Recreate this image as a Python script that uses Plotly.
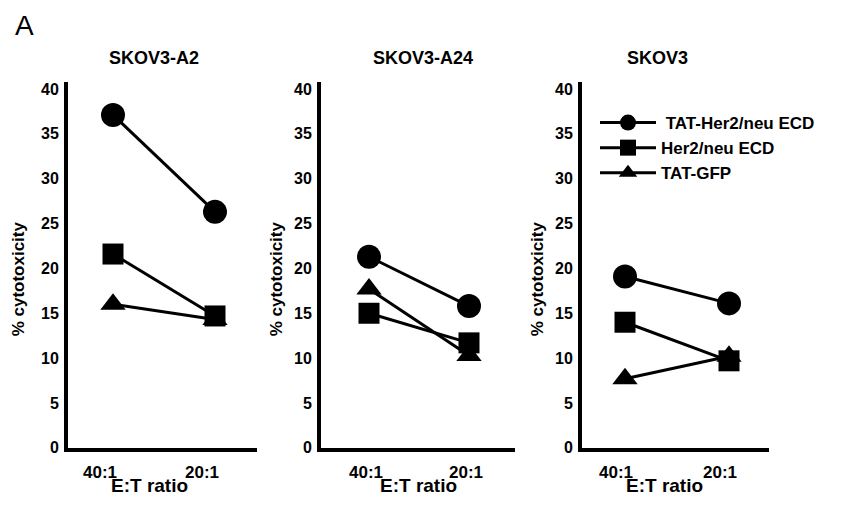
import plotly.graph_objects as go

W, H = 847, 506          # browser window
OFF = 8                  # default page body margin
FW, FH = W - 2 * OFF, H - 2 * OFF   # figure size so the page does not overflow

# ---- data ----
ratios = ["40:1", "20:1"]
series_names = ["\u00a0TAT-Her2/neu ECD", "Her2/neu ECD", "TAT-GFP"]
panel_titles = ["SKOV3-A2", "SKOV3-A24", "SKOV3"]
y_ticks = [0, 5, 10, 15, 20, 25, 30, 35, 40]

a2_tat_her2 = [37.1, 26.3]
a2_her2 = [21.6, 14.7]
a2_tat_gfp = [16.0, 14.3]

a24_tat_her2 = [21.3, 15.8]
a24_her2 = [15.0, 11.7]
a24_tat_gfp = [17.7, 10.3]

s3_tat_her2 = [19.1, 16.1]
s3_her2 = [14.0, 9.7]
s3_tat_gfp = [7.7, 10.2]

panel_data = [
    [a2_tat_her2, a2_her2, a2_tat_gfp],
    [a24_tat_her2, a24_her2, a24_tat_gfp],
    [s3_tat_her2, s3_her2, s3_tat_gfp],
]

# ---- style / layout (pixels in the screenshot) ----
FONT = "Arial, Liberation Sans, sans-serif"
symbols = ["circle", "square", "triangle-up"]
msizes = [24, 21, 22]
draw_order = [0, 2, 1]  # squares drawn on top of triangles
panel_px = [(68, 257), (321, 515), (582, 769)]
marker_px = [(113, 215), (369, 469), (625, 729)]
xlabel_shift = [-13, -3, -9]
title_cx = [154, 423, 657]
xtitle_cx = [149, 418, 664]
ytitle_cx = [18, 276, 537]
Y0_PX, PX_PER_UNIT, YTOP = 456, 9.16, 40.8


def fx(p):
    return (p - OFF) / FW


def fy(p):
    return 1 - (p - OFF) / FH


def bold(s):
    return f"<b>{s}</b>"


fig = go.Figure()

for p in range(3):
    xa = "x" if p == 0 else f"x{p+1}"
    ya = "y" if p == 0 else f"y{p+1}"
    for s in draw_order:
        fig.add_trace(go.Scatter(
            x=ratios, y=panel_data[p][s], xaxis=xa, yaxis=ya,
            mode="lines+markers", name=bold(series_names[s]),
            line=dict(color="black", width=3),
            marker=dict(symbol=symbols[s], size=msizes[s], color="black"),
            showlegend=(p == 2), legendrank=s + 1, cliponaxis=False,
        ))

ytop_px = Y0_PX - PX_PER_UNIT * YTOP
layout_axes = {}
for p in range(3):
    L, R = panel_px[p]
    m0, m1 = marker_px[p]
    sp = m1 - m0
    xr = [(L - m0) / sp, 1 + (R - m1) / sp]
    key = "" if p == 0 else str(p + 1)
    layout_axes[f"xaxis{key}"] = dict(
        domain=[fx(L), fx(R)], range=xr, type="category",
        tickvals=ratios, ticktext=[bold(r) for r in ratios],
        anchor="y" + key, showline=True, linecolor="black", linewidth=4,
        showgrid=False, zeroline=False, ticks="", ticklabelshift=xlabel_shift[p],
        ticklabelstandoff=6,
        tickfont=dict(family=FONT, size=17, color="black"),
        fixedrange=True,
    )
    layout_axes[f"yaxis{key}"] = dict(
        domain=[fy(Y0_PX), fy(ytop_px)], range=[0, YTOP],
        anchor="x" + key, showline=True, linecolor="black", linewidth=4,
        showgrid=False, zeroline=False, ticks="",
        tickvals=y_ticks, ticktext=[bold(v) for v in y_ticks],
        ticklabelstandoff=2,
        tickfont=dict(family=FONT, size=16, color="black"),
        fixedrange=True,
    )

annotations = [dict(text="A", x=fx(24), y=fy(25), xref="paper", yref="paper",
                    xanchor="center", yanchor="middle",
                    showarrow=False, font=dict(family=FONT, size=28, color="black"))]
for p in range(3):
    annotations.append(dict(text=bold(panel_titles[p]), x=fx(title_cx[p]), y=fy(58),
                            xref="paper", yref="paper", showarrow=False,
                            xanchor="center", yanchor="middle",
                            font=dict(family=FONT, size=18, color="black")))
    annotations.append(dict(text=bold("E:T ratio"), x=fx(xtitle_cx[p]), y=fy(494),
                            xref="paper", yref="paper", showarrow=False,
                            xanchor="center", yanchor="middle",
                            font=dict(family=FONT, size=19, color="black")))
    annotations.append(dict(text=bold("% cytotoxicity"), x=fx(ytitle_cx[p]), y=fy(284),
                            xref="paper", yref="paper", showarrow=False, textangle=-90,
                            xanchor="center", yanchor="middle",
                            font=dict(family=FONT, size=17, color="black")))

fig.update_layout(
    width=FW, height=FH, margin=dict(l=0, r=0, t=0, b=0),
    paper_bgcolor="white", plot_bgcolor="white",
    annotations=annotations,
    legend=dict(x=fx(595), y=fy(106), xanchor="left", yanchor="top",
                font=dict(family=FONT, size=17, color="black"),
                itemwidth=56, bgcolor="rgba(0,0,0,0)", tracegroupgap=0),
    **layout_axes,
)

fig.write_html("out.html")
